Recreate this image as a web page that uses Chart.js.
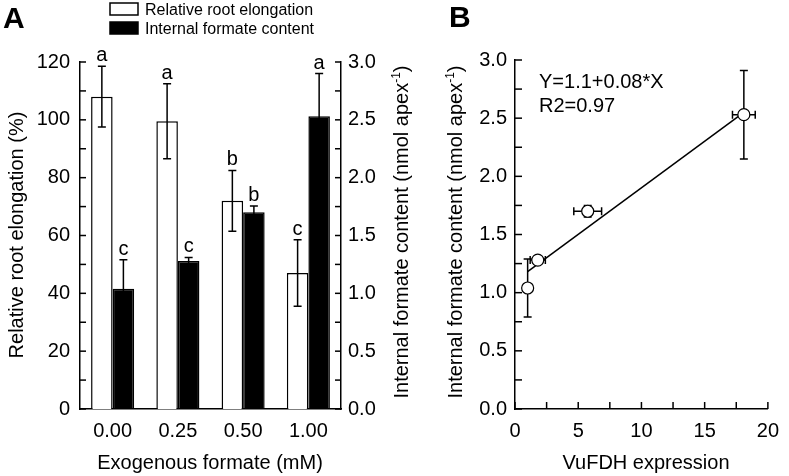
<!DOCTYPE html>
<html>
<head>
<meta charset="utf-8">
<script src="https://cdn.jsdelivr.net/npm/chart.js@4.4.0/dist/chart.umd.min.js"></script>
<style>
  body { margin: 0; background: #fff; }
  #wrap { position: relative; width: 789px; height: 476px; }
  .panel { position: absolute; top: 0; height: 476px; }
  #panelA { left: 0; width: 430px; }
  #panelB { left: 430px; width: 359px; }
</style>
</head>
<body>
<div id="wrap">
  <div class="panel" id="panelA"><canvas id="chartA"></canvas></div>
  <div class="panel" id="panelB"><canvas id="chartB"></canvas></div>
</div>
<script>
// Panel A: bars by exogenous formate dose
const doses = ["0.00", "0.25", "0.50", "1.00"];
const elongation = [108, 99.5, 72, 47];
const elongationErr = [10.5, 13, 10.5, 11.5];
const elongationLetters = ["a", "a", "b", "c"];
const formate = [1.04, 1.28, 1.70, 2.53];
const formateErr = [0.25, 0.03, 0.055, 0.37];
const formateLetters = ["c", "c", "b", "a"];

// Panel B: formate vs VuFDH expression
const fdhExpr = [1.0, 1.8, 5.75, 18.1];
const fdhExprErr = [0, 0.6, 1.1, 0.9];
const fdhFormate = [1.04, 1.28, 1.70, 2.53];
const fdhFormateErr = [0.25, 0.03, 0.05, 0.38];
const fitX = [1.0, 18.1];
const fitY = [1.18, 2.55];

// tick labels
const elongTicks = [0, 20, 40, 60, 80, 100, 120];
const formateTicks = [0, 0.5, 1, 1.5, 2, 2.5, 3];
const exprTicks = [0, 5, 10, 15, 20];

const FONT = "'Liberation Sans', Arial, Helvetica, sans-serif";
Chart.defaults.font.family = FONT;
Chart.defaults.color = "#000";

// text with optional superscript parts, centered on (x, y) baseline
function drawRich(ctx, parts, x, y, rot, size) {
  ctx.save();
  ctx.translate(x, y);
  ctx.rotate(rot);
  ctx.fillStyle = "#000";
  ctx.textBaseline = "alphabetic";
  const supSize = Math.round(size * 0.62);
  const widths = [];
  let total = 0;
  parts.forEach(function (p) {
    ctx.font = (p.sup ? supSize : size) + "px " + FONT;
    const w = ctx.measureText(p.text).width;
    widths.push(w);
    total += w;
  });
  let cx = -total / 2;
  parts.forEach(function (p, i) {
    ctx.font = (p.sup ? supSize : size) + "px " + FONT;
    ctx.fillText(p.text, cx, p.sup ? -size * 0.42 : 0);
    cx += widths[i];
  });
  ctx.restore();
}

// ticks pointing into the plot
const innerTicks = {
  id: "innerTicks",
  afterDraw(chart, args, opts) {
    const ctx = chart.ctx;
    ctx.save();
    ctx.strokeStyle = "#000";
    ctx.lineWidth = 1.5;
    opts.axes.forEach(function (id) {
      const s = chart.scales[id];
      s.ticks.forEach(function (t) {
        const p = s.getPixelForValue(t.value);
        ctx.beginPath();
        if (s.position === "left") {
          ctx.moveTo(s.right, p); ctx.lineTo(s.right + opts.length, p);
        } else if (s.position === "right") {
          ctx.moveTo(s.left, p); ctx.lineTo(s.left - opts.length, p);
        } else {
          ctx.moveTo(p, s.top); ctx.lineTo(p, s.top - opts.length);
        }
        ctx.stroke();
      });
    });
    ctx.restore();
  }
};

const titles = {
  id: "titles",
  afterDraw(chart, args, opts) {
    opts.items.forEach(function (it) {
      drawRich(chart.ctx, it.parts, it.x, it.y, it.rot || 0, it.size);
    });
  }
};

// error bars + significance letters on the bars
const barErrors = {
  id: "barErrors",
  afterDatasetsDraw(chart) {
    const ctx = chart.ctx;
    ctx.save();
    ctx.strokeStyle = "#000";
    ctx.fillStyle = "#000";
    ctx.lineWidth = 1.5;
    ctx.font = "20px " + FONT;
    ctx.textAlign = "center";
    ctx.textBaseline = "alphabetic";
    chart.data.datasets.forEach(function (ds, i) {
      const meta = chart.getDatasetMeta(i);
      const scale = chart.scales[ds.yAxisID];
      meta.data.forEach(function (bar, j) {
        const v = ds.data[j], e = ds.errors[j];
        const yTop = scale.getPixelForValue(v + e);
        const yBot = scale.getPixelForValue(v - e);
        ctx.beginPath();
        ctx.moveTo(bar.x, yTop); ctx.lineTo(bar.x, yBot);
        ctx.moveTo(bar.x - 4, yTop); ctx.lineTo(bar.x + 4, yTop);
        ctx.moveTo(bar.x - 4, yBot); ctx.lineTo(bar.x + 4, yBot);
        ctx.stroke();
        ctx.fillText(ds.letters[j], bar.x, yTop - 5);
      });
    });
    ctx.restore();
  }
};

// little legend drawn in the top padding
const boxLegend = {
  id: "boxLegend",
  afterDraw(chart, args, opts) {
    const ctx = chart.ctx;
    ctx.save();
    ctx.lineWidth = 1.5;
    ctx.strokeStyle = "#000";
    ctx.font = "16px " + FONT;
    ctx.textBaseline = "alphabetic";
    chart.data.datasets.forEach(function (ds, i) {
      const y = opts.y + i * opts.gap;
      ctx.fillStyle = ds.backgroundColor;
      ctx.fillRect(opts.x, y, 28, 12);
      ctx.strokeRect(opts.x, y, 28, 12);
      ctx.fillStyle = "#000";
      ctx.fillText(ds.label, opts.x + 35, y + 11.5);
    });
    ctx.restore();
  }
};

const panelLetter = {
  id: "panelLetter",
  afterDraw(chart, args, opts) {
    const ctx = chart.ctx;
    ctx.save();
    ctx.fillStyle = "#000";
    ctx.font = "bold 30px " + FONT;
    ctx.textBaseline = "alphabetic";
    ctx.fillText(opts.text, opts.x, opts.y);
    ctx.restore();
  }
};

const axisLine = { color: "#000", width: 1.5 };
const tickFont = { size: 20 };

new Chart(document.getElementById("chartA"), {
  type: "bar",
  data: {
    labels: doses,
    datasets: [
      {
        label: "Relative root elongation",
        data: elongation,
        errors: elongationErr,
        letters: elongationLetters,
        yAxisID: "y",
        backgroundColor: "#ffffff",
        borderColor: "#000",
        borderWidth: 1.5,
      },
      {
        label: "Internal formate content",
        data: formate,
        errors: formateErr,
        letters: formateLetters,
        yAxisID: "y1",
        backgroundColor: "#000000",
        borderColor: "#000",
        borderWidth: 1.5,
      },
    ],
  },
  options: {
    animation: false,
    responsive: true,
    maintainAspectRatio: false,
    layout: { padding: { top: 62 } },
    datasets: { bar: { categoryPercentage: 0.66, barPercentage: 1.0 } },
    scales: {
      x: {
        grid: { display: false, drawTicks: false },
        border: axisLine,
        ticks: { font: tickFont, padding: 10 },
        afterFit: function (s) { s.height = 67; },
      },
      y: {
        position: "left",
        min: 0,
        max: 120,
        grid: { display: false, drawTicks: false },
        border: axisLine,
        ticks: {
          font: tickFont,
          padding: 10,
          stepSize: 10,
          autoSkip: false,
          callback: function (v) { return elongTicks.includes(v) ? String(v) : ""; },
        },
        afterFit: function (s) { s.width = 80; },
      },
      y1: {
        position: "right",
        min: 0,
        max: 3,
        grid: { display: false, drawTicks: false },
        border: axisLine,
        ticks: {
          font: tickFont,
          padding: 7,
          stepSize: 0.25,
          autoSkip: false,
          callback: function (v) { return formateTicks.includes(v) ? v.toFixed(1) : ""; },
        },
        afterFit: function (s) { s.width = 89; },
      },
    },
    plugins: {
      legend: { display: false },
      tooltip: { enabled: false },
      innerTicks: { axes: ["y", "y1"], length: 6 },
      boxLegend: { x: 110, y: 3, gap: 19 },
      panelLetter: { text: "A", x: 3, y: 28 },
      titles: {
        items: [
          { parts: [{ text: "Relative root elongation (%)" }], x: 23, y: 235, rot: -Math.PI / 2, size: 20 },
          { parts: [{ text: "Exogenous formate (mM)" }], x: 210, y: 469, size: 20 },
          {
            parts: [{ text: "Internal formate content (nmol apex" }, { text: "-1", sup: true }, { text: ")" }],
            x: 408, y: 232, rot: -Math.PI / 2, size: 20,
          },
        ],
      },
    },
  },
  plugins: [innerTicks, barErrors, boxLegend, panelLetter, titles],
});

// error bars for the scatter points (drawn under the circles)
const xyErrors = {
  id: "xyErrors",
  beforeDatasetsDraw(chart) {
    const ctx = chart.ctx;
    const sx = chart.scales.x, sy = chart.scales.y;
    ctx.save();
    ctx.strokeStyle = "#000";
    ctx.lineWidth = 1.5;
    fdhExpr.forEach(function (x, i) {
      const px = sx.getPixelForValue(x), py = sy.getPixelForValue(fdhFormate[i]);
      if (fdhFormateErr[i] > 0) {
        const t = sy.getPixelForValue(fdhFormate[i] + fdhFormateErr[i]);
        const b = sy.getPixelForValue(fdhFormate[i] - fdhFormateErr[i]);
        ctx.beginPath();
        ctx.moveTo(px, t); ctx.lineTo(px, b);
        ctx.moveTo(px - 4, t); ctx.lineTo(px + 4, t);
        ctx.moveTo(px - 4, b); ctx.lineTo(px + 4, b);
        ctx.stroke();
      }
      if (fdhExprErr[i] > 0) {
        const l = sx.getPixelForValue(x - fdhExprErr[i]);
        const r = sx.getPixelForValue(x + fdhExprErr[i]);
        ctx.beginPath();
        ctx.moveTo(l, py); ctx.lineTo(r, py);
        ctx.moveTo(l, py - 4); ctx.lineTo(l, py + 4);
        ctx.moveTo(r, py - 4); ctx.lineTo(r, py + 4);
        ctx.stroke();
      }
    });
    ctx.restore();
  }
};

const eqText = {
  id: "eqText",
  afterDraw(chart, args, opts) {
    const ctx = chart.ctx;
    ctx.save();
    ctx.fillStyle = "#000";
    ctx.font = "20px " + FONT;
    ctx.textBaseline = "alphabetic";
    opts.lines.forEach(function (ln, i) {
      ctx.fillText(ln, opts.x, opts.y + i * 24);
    });
    ctx.restore();
  }
};

new Chart(document.getElementById("chartB"), {
  type: "scatter",
  data: {
    datasets: [
      {
        label: "VuFDH",
        data: fdhExpr.map(function (x, i) { return { x: x, y: fdhFormate[i] }; }),
        pointRadius: 6,
        pointBackgroundColor: "#fff",
        pointBorderColor: "#000",
        pointBorderWidth: 1.2,
      },
      {
        type: "line",
        label: "fit",
        data: fitX.map(function (x, i) { return { x: x, y: fitY[i] }; }),
        borderColor: "#000",
        borderWidth: 1.5,
        pointRadius: 0,
        fill: false,
      },
    ],
  },
  options: {
    animation: false,
    responsive: true,
    maintainAspectRatio: false,
    layout: { padding: { top: 60, right: 12 } },
    scales: {
      x: {
        type: "linear",
        min: 0,
        max: 20,
        grid: { display: false, drawTicks: false },
        border: axisLine,
        ticks: {
          font: tickFont,
          padding: 10,
          stepSize: 2.5,
          autoSkip: false,
          maxRotation: 0,
          callback: function (v) { return exprTicks.includes(v) ? String(v) : ""; },
        },
        afterFit: function (s) { s.height = 67; },
      },
      y: {
        min: 0,
        max: 3,
        grid: { display: false, drawTicks: false },
        border: axisLine,
        ticks: {
          font: tickFont,
          padding: 8,
          stepSize: 0.25,
          autoSkip: false,
          callback: function (v) { return formateTicks.includes(v) ? v.toFixed(1) : ""; },
        },
        afterFit: function (s) { s.width = 85; },
      },
    },
    plugins: {
      legend: { display: false },
      tooltip: { enabled: false },
      innerTicks: { axes: ["x", "y"], length: 7 },
      panelLetter: { text: "B", x: 19, y: 27 },
      eqText: { lines: ["Y=1.1+0.08*X", "R2=0.97"], x: 109, y: 88 },
      titles: {
        items: [
          { parts: [{ text: "VuFDH expression" }], x: 216, y: 469, size: 20 },
          {
            parts: [{ text: "Internal formate content (nmol apex" }, { text: "-1", sup: true }, { text: ")" }],
            x: 32, y: 232, rot: -Math.PI / 2, size: 20,
          },
        ],
      },
    },
  },
  plugins: [xyErrors, innerTicks, panelLetter, eqText, titles],
});
</script>
</body>
</html>
